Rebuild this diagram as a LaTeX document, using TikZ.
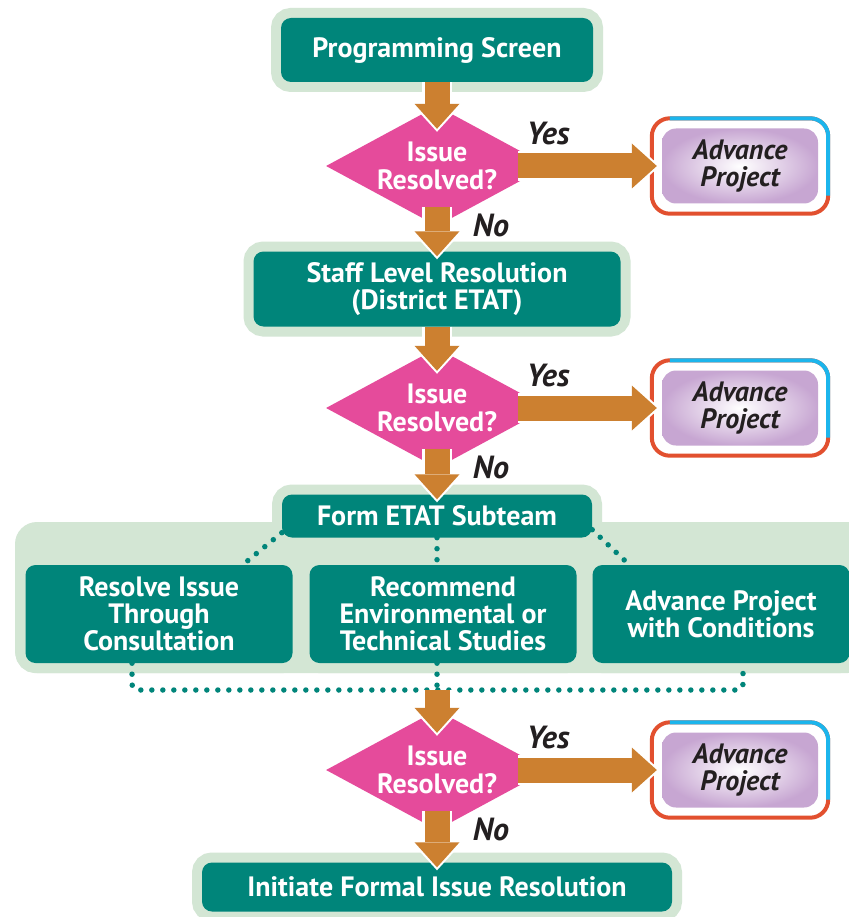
\documentclass[tikz,border=0pt]{standalone}
\usepackage{fontspec}
\setmainfont{PT Sans}
\usetikzlibrary{arrows.meta,calc,shapes.geometric}
\definecolor{boxteal}{RGB}{0,133,122}
\definecolor{halogreen}{RGB}{211,230,212}
\definecolor{decpink}{RGB}{229,75,155}
\definecolor{arroworange}{RGB}{204,128,48}
\definecolor{advlav}{RGB}{199,166,210}
\definecolor{ringcyan}{RGB}{28,181,236}
\definecolor{ringred}{RGB}{226,80,47}
\definecolor{lbldark}{RGB}{35,31,32}
\tikzset{
  tealbox/.style={fill=boxteal, rounded corners=10pt, preaction={draw=halogreen, line width=20pt},
    text=white, font=\bfseries\fontsize{28}{27}\selectfont, align=center, inner sep=0pt},
  decision/.style={diamond, fill=decpink, aspect=1.85, minimum width=222pt, minimum height=120pt,
    inner sep=0pt, text=white, font=\bfseries\fontsize{28}{28}\selectfont, align=center},
  advbox/.style={rounded corners=14pt, inner color=white, outer color=advlav, minimum width=156pt,
    minimum height=75pt, text=lbldark, font=\bfseries\itshape\fontsize{28}{27}\selectfont, align=center},
  answer/.style={text=lbldark, font=\bfseries\itshape\fontsize{32}{32}\selectfont, inner sep=0pt},
  dotline/.style={draw=boxteal, line width=5.5pt, line cap=round, dash pattern=on 0pt off 11pt, rounded corners=6pt},
  arrowcase/.style={draw=white, line width=30pt, -{Triangle[width=53pt,length=29pt,line width=0pt]}, shorten >=-3pt},
  arrowcore/.style={draw=arroworange, line width=25pt, -{Triangle[width=45pt,length=25pt,line width=0pt]}},
}
\def\fatarrow(#1)(#2){\draw[arrowcase] (#1) -- (#2); \draw[arrowcore] (#1) -- (#2);}
\def\ring(#1){\draw[ringred, line width=4pt, rounded corners=18pt] ($(#1.north west)+(-10,-10)$) rectangle ($(#1.south east)+(10,10)$);
  \draw[ringcyan, line width=4pt, rounded corners=18pt] ($(#1.north west)+(8,-10)$) -- ($(#1.north east)+(10,-10)$) -- ($(#1.south east)+(10,-8)$);}

\begin{document}
\begin{tikzpicture}[x=1pt, y=-1pt]
	\fill[white] (0,0) rectangle (848,917);
	\useasboundingbox (0,0) rectangle (848,917);
	
	% top part
	\node[tealbox, minimum width=312pt, minimum height=64pt] (prog) at (437,50) {Programming Screen};
	\node[decision] (q1) at (437,166) {Issue\\Resolved?};
	\node[advbox] (adv1) at (740,166) {Advance\\Project};
	\ring(adv1)
	\node[answer] (yes1) at ([shift={(111,-32)}]q1.center) {Yes};
	\node[answer] (no1) at ([shift={(54,59)}]q1.center) {No};
	
	\node[tealbox, minimum width=367pt, minimum height=75pt] (staff) at (437,289) {Staff Level Resolution\\(District ETAT)};
	\node[decision] (q2) at (437,408) {Issue\\Resolved?};
	\node[advbox] (adv2) at (740,408) {Advance\\Project};
	\ring(adv2)
	\node[answer] (yes2) at ([shift={(111,-32)}]q2.center) {Yes};
	\node[answer] (no2) at ([shift={(54,59)}]q2.center) {No};
	
	% subteam
	\fill[halogreen, rounded corners=22pt] (15,522) rectangle (870,673);
	\node[tealbox, minimum width=310pt, minimum height=43pt] (form) at (437,516) {Form ETAT Subteam};
	\node[tealbox, minimum width=267pt, minimum height=98pt] (res) at (159,614) {Resolve Issue\\Through\\Consultation};
	\node[tealbox, minimum width=267pt, minimum height=98pt] (rec) at (443,614) {Recommend\\Environmental or\\Technical Studies};
	\node[tealbox, minimum width=257pt, minimum height=98pt] (cond) at (721,614) {Advance Project\\with Conditions};
	\coordinate (merge) at (437,690);
	\coordinate (bl) at (132,690);
	\coordinate (br) at (743,690);
	\draw[dotline] ([yshift=5pt]form.south west) -- ([xshift=-50pt]res.north east);
	\draw[dotline] (form.south) -- (form.south |- rec.north);
	\draw[dotline] ([yshift=8pt]form.south east) -- ([xshift=37pt]cond.north west);
	\draw[dotline] (bl |- res.south) -- (bl) -- (br) -- (br |- cond.south);
	\draw[dotline] (merge |- rec.south) -- (merge);
	
	% bottom part
	\node[decision] (q3) at (437,770) {Issue\\Resolved?};
	\node[advbox] (adv3) at (740,770) {Advance\\Project};
	\ring(adv3)
	\node[answer] (yes3) at ([shift={(111,-32)}]q3.center) {Yes};
	\node[answer] (no3) at ([shift={(54,59)}]q3.center) {No};
	\node[tealbox, minimum width=470pt, minimum height=49pt] (final) at (437,887) {Initiate Formal Issue Resolution};
	
	% arrows
	\fatarrow(prog.south)([yshift=-23pt]q1.north)
	\fatarrow([yshift=19pt]q1.south)([yshift=-5pt]staff.north)
	\fatarrow([xshift=-30pt]q1.east)([xshift=-5pt]adv1.west)
	\fatarrow(staff.south)([yshift=-23pt]q2.north)
	\fatarrow([yshift=19pt]q2.south)([yshift=-5pt]form.north)
	\fatarrow([xshift=-30pt]q2.east)([xshift=-5pt]adv2.west)
	\fatarrow(merge)([yshift=-23pt]q3.north)
	\fatarrow([yshift=19pt]q3.south)([yshift=-5pt]final.north)
	\fatarrow([xshift=-30pt]q3.east)([xshift=-5pt]adv3.west)
\end{tikzpicture}
\end{document}
